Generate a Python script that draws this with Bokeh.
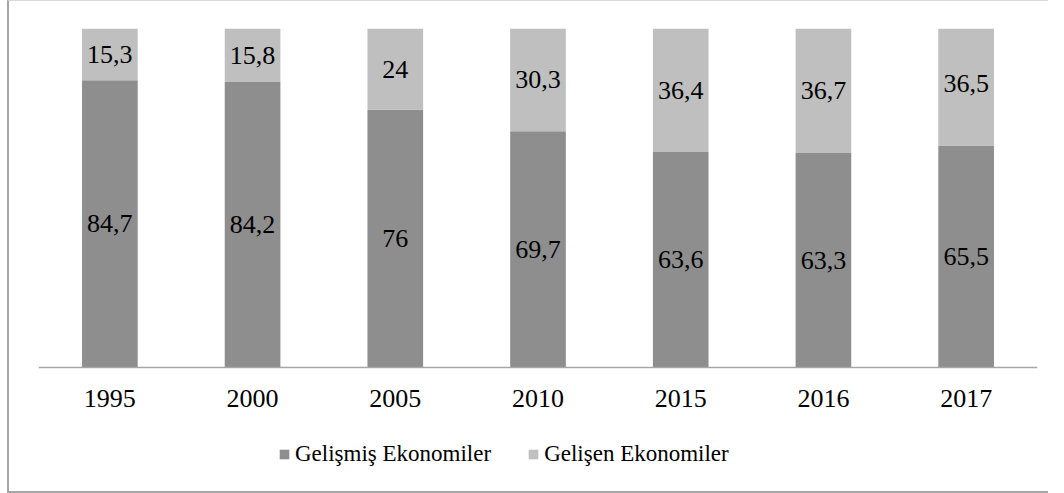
from bokeh.plotting import figure
from bokeh.models import ColumnDataSource, Legend, LegendItem, Range1d, Span
from bokeh.core.properties import value
from bokeh.embed import file_html
from bokeh.resources import INLINE

years = ["1995", "2000", "2005", "2010", "2015", "2016", "2017"]
gelismis = [84.7, 84.2, 76, 69.7, 63.6, 63.3, 65.5]
gelisen = [15.3, 15.8, 24, 30.3, 36.4, 36.7, 36.5]
series_names = ["Gelişmiş Ekonomiler", "Gelişen Ekonomiler"]
colors = ["#8e8e8e", "#bfbfbf"]

def fmt(v):
    s = ("%g" % v)
    return s.replace(".", ",")

src = ColumnDataSource(dict(
    years=years,
    a=gelismis,
    b=gelisen,
    a_mid=[v / 2 for v in gelismis],
    b_mid=[a + b / 2 for a, b in zip(gelismis, gelisen)],
    a_lab=[fmt(v) for v in gelismis],
    b_lab=[fmt(v) for v in gelisen],
))

# 339 px per 100 units; frame extends 123 px below the axis for labels/legend
px_per_unit = 339 / 100
below_units = 123 / px_per_unit

p = figure(x_range=years, y_range=Range1d(-below_units, 100),
           frame_width=999, frame_height=462,
           output_backend="svg", toolbar_location=None,
           min_border_left=29, min_border_right=11, min_border_top=27,
           min_border_bottom=1)
p.styles = {"border-left": "2px solid #a6a6a6",
            "border-top": "1px solid #d9d9d9",
            "border-bottom": "2px solid #a6a6a6",
            "margin-left": "7px"}
p.x_range.range_padding = 0

r = p.vbar_stack(["a", "b"], x="years", width=0.39, color=colors, source=src,
                 line_color=None)

font = value("Liberation Serif")
p.text(x="years", y="a_mid", text="a_lab", source=src, text_align="center",
       text_baseline="middle", text_font=font, text_font_size="26px",
       text_color="black")
p.text(x="years", y="b_mid", text="b_lab", source=src, text_align="center",
       text_baseline="middle", text_font=font, text_font_size="26px",
       text_color="black")

# x axis line and category labels
p.add_layout(Span(location=0, dimension="width", line_color="#a6a6a6",
                  line_width=1.5))
tick_y = -31 / px_per_unit
p.text(x=years, y=[tick_y] * len(years), text=years, text_align="center",
       text_baseline="middle", text_font=font, text_font_size="26px",
       text_color="black")

p.xaxis.visible = False
p.yaxis.visible = False
p.grid.visible = False
p.outline_line_color = None

legend = Legend(items=[LegendItem(label=series_names[0], renderers=[r[0]]),
                       LegendItem(label=series_names[1], renderers=[r[1]])],
                orientation="horizontal", location=(240, 23))
legend.label_text_font = "Liberation Serif"
legend.label_text_font_size = "23px"
legend.label_text_color = "black"
legend.label_height = 12
legend.glyph_width = 12
legend.glyph_height = 12
legend.label_standoff = 5
legend.spacing = 36
legend.padding = 0
legend.margin = 0
legend.border_line_color = None
legend.background_fill_alpha = 0
p.add_layout(legend, "center")

open("out.html", "w").write(file_html(p, INLINE))
